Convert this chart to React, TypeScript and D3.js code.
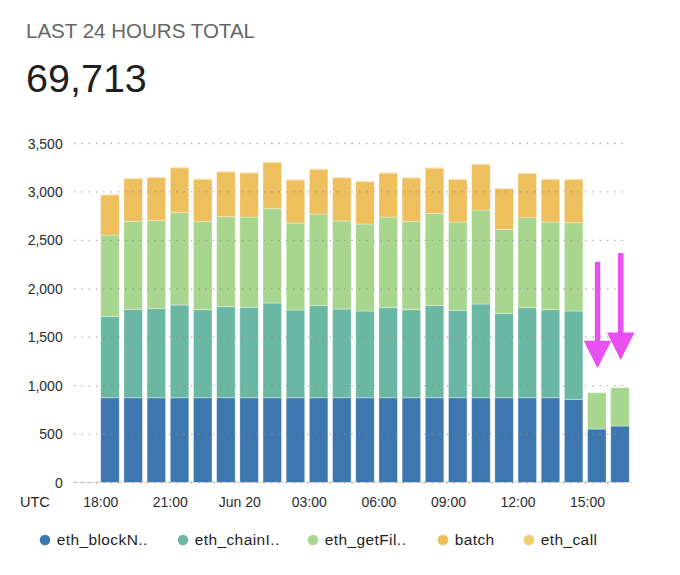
import React from "react";
import * as d3 from "d3";

const categories = [
  "18:00", "19:00", "20:00", "21:00", "22:00", "23:00", "Jun 20", "01:00", "02:00", "03:00", "04:00", "05:00",
  "06:00", "07:00", "08:00", "09:00", "10:00", "11:00", "12:00", "13:00", "14:00", "15:00", "16:00",
];
const tickLabels = ["18:00", "21:00", "Jun 20", "03:00", "06:00", "09:00", "12:00", "15:00"];

const seriesNames = ["eth_blockN..", "eth_chainI..", "eth_getFil..", "batch", "eth_call"];
const seriesColors = ["#3e77af", "#6ab8a3", "#a8d68e", "#eebf5d", "#f2cf6d"];

const blockNumber = [875, 875, 875, 875, 875, 875, 875, 875, 875, 875, 875, 875, 875, 875, 875, 875, 875, 875, 875, 875, 859, 552, 583];
const chainId = [837, 913, 920, 958, 909, 940, 934, 978, 906, 951, 916, 896, 930, 909, 954, 903, 968, 868, 930, 909, 912, 0, 0];
const getFilter = [843, 909, 908, 953, 909, 929, 932, 974, 898, 946, 909, 898, 936, 909, 950, 911, 970, 871, 929, 905, 911, 375, 396];
const batch = [414, 440, 445, 463, 438, 462, 455, 477, 444, 462, 447, 438, 454, 452, 467, 441, 472, 420, 457, 442, 448, 0, 0];
const ethCall = [6, 7, 6, 8, 6, 7, 6, 8, 7, 6, 7, 6, 7, 6, 8, 7, 6, 6, 7, 6, 7, 0, 0];

const yTicks = [0, 500, 1000, 1500, 2000, 2500, 3000, 3500];

const arrowBars = ["15:00", "16:00"];
const arrowFrom = [2280, 2369];
const arrowTo = [1179, 1265];

const legendX = [45, 183, 313, 443, 529];

const FONT = "'Liberation Sans', Arial, sans-serif";

export default function App() {
  const width = 680;
  const height = 575;

  const x = d3.scaleBand<string>().domain(categories).range([98.4, 631.6]).paddingInner(0.2).paddingOuter(0.1);
  const y = d3.scaleLinear().domain([0, 3500]).range([482.5, 143.5]);

  const table = categories.map((c, i) => ({
    cat: c,
    s0: blockNumber[i],
    s1: chainId[i],
    s2: getFilter[i],
    s3: batch[i],
    s4: ethCall[i],
  }));
  const keys = ["s0", "s1", "s2", "s3", "s4"];
  const stacked = d3.stack<any>().keys(keys)(table);

  const gridX0 = 74;
  const gridX1 = 625;
  const bw = x.bandwidth();

  return (
    <div style={{ position: "absolute", left: 0, top: 0 }}>
      <svg width={width} height={height} style={{ display: "block", background: "#fff" }}>
        <text x={26} y={38.3} fontFamily={FONT} fontSize={21} fill="#666" textLength={229} lengthAdjust="spacingAndGlyphs">
          LAST 24 HOURS TOTAL
        </text>
        <text x={26} y={91.7} fontFamily={FONT} fontSize={39.5} fill="#1f1f1f">
          69,713
        </text>

        {/* bars */}
        {stacked.map((layer, li) => (
          <g key={li} fill={seriesColors[li]}>
            {layer.map((d, i) => {
              const h = y(d[0]) - y(d[1]);
              if (h <= 0) return null;
              return (
                <rect
                  key={i}
                  x={x(categories[i])!}
                  y={y(d[1])}
                  width={bw}
                  height={h}
                  stroke="#ffffff"
                  strokeOpacity={0.45}
                  strokeWidth={0.8}
                />
              );
            })}
          </g>
        ))}

        {/* baseline */}
        <line x1={gridX0} x2={632} y1={y(0)} y2={y(0)} stroke="#d8d8d8" strokeWidth={1} />
        {/* grid */}
        {yTicks.map((t) => (
          <line
            key={t}
            x1={gridX0}
            x2={gridX1}
            y1={y(t)}
            y2={y(t)}
            stroke="#8a8a8a"
            strokeOpacity={0.7}
            strokeWidth={1.3}
            strokeDasharray="1.5 5.8"
          />
        ))}

        {/* y labels */}
        {yTicks.map((t) => (
          <text
            key={t}
            x={62.7}
            y={y(t)}
            dy="0.36em"
            textAnchor="end"
            fontFamily={FONT}
            fontSize={14}
            fill="#2b2b2b"
          >
            {d3.format(",")(t)}
          </text>
        ))}

        {/* x labels */}
        <text x={20} y={507} fontFamily={FONT} fontSize={14.5} fill="#1f1f1f">
          UTC
        </text>
        {tickLabels.map((l) => (
          <text key={l} x={x(l)!} y={507} textAnchor="middle" fontFamily={FONT} fontSize={14} fill="#2b2b2b">
            {l}
          </text>
        ))}

        {/* arrows */}
        {arrowBars.map((c, i) => {
          const cx = x(c)! + bw / 2 + 0.7;
          const yTop = y(arrowFrom[i]);
          const yTip = y(arrowTo[i]);
          const headLen = 27.6;
          const headHalf = 13.8;
          const shaftHalf = 2.7;
          const yHead = yTip - headLen;
          const p = d3.path();
          p.moveTo(cx - shaftHalf, yTop);
          p.lineTo(cx + shaftHalf, yTop);
          p.lineTo(cx + shaftHalf, yHead);
          p.lineTo(cx + headHalf, yHead);
          p.lineTo(cx, yTip);
          p.lineTo(cx - headHalf, yHead);
          p.lineTo(cx - shaftHalf, yHead);
          p.closePath();
          return <path key={c} d={p.toString()} fill="#e950f1" />;
        })}

        {/* legend */}
        {seriesNames.map((n, i) => (
          <g key={n}>
            <circle cx={legendX[i]} cy={540} r={5.3} fill={seriesColors[i]} />
            <text x={legendX[i] + 11.7} y={545.3} fontFamily={FONT} fontSize={15.5} letterSpacing={0.4} fill="#1f1f1f">
              {n}
            </text>
          </g>
        ))}
      </svg>
    </div>
  );
}
